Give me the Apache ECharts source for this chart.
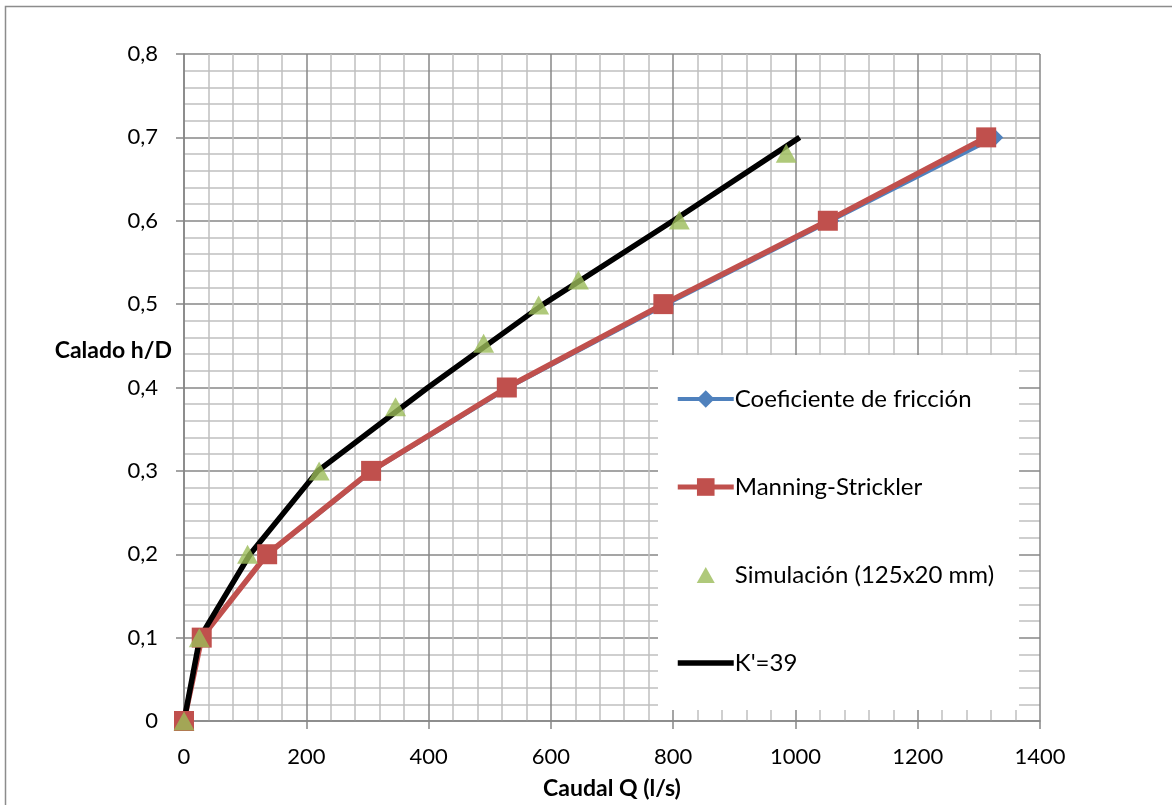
<!DOCTYPE html>
<html>
<head>
<meta charset="utf-8">
<script src="https://cdn.jsdelivr.net/npm/echarts@6/dist/echarts.min.js"></script>
<style>
  html, body { margin: 0; padding: 0; background: #fff; }
  #chart { width: 1172px; height: 805px; }
</style>
</head>
<body>
<div id="chart"></div>
<script>
// calado relativo h/D (eje Y)
var calado = [0, 0.1, 0.2, 0.3, 0.4, 0.5, 0.6, 0.7];
// caudal Q (l/s) por serie
var qFriccion = [0, 28, 137, 308, 531, 789, 1058, 1326];
var qManning = [0, 29, 136, 306, 528, 784, 1053, 1312];
var qK39 = [0, 26, 108, 219, 399, 588, 800, 1007];
// simulación (125x20 mm)
var simQ = [0, 25, 104, 221, 346, 490, 580, 645, 810, 985];
var simH = [0, 0.1, 0.2, 0.3, 0.377, 0.453, 0.499, 0.529, 0.601, 0.681];

var legendNames = ['Coeficiente de fricción', 'Manning-Strickler', 'Simulación (125x20 mm)', "K'=39"];

function pares(xs, ys) {
  var out = [];
  for (var i = 0; i < xs.length; i++) out.push([xs[i], ys[i]]);
  return out;
}

var chart = echarts.init(document.getElementById('chart'));
var fuente = 'Lato';

var option = {
  backgroundColor: '#ffffff',
  animation: false,
  textStyle: { fontFamily: fuente, color: '#000' },
  grid: { left: 184, right: 132, top: 54, bottom: 84 },
  graphic: [
    {
      type: 'rect',
      shape: { x: 5.5, y: 6.5, width: 1200, height: 900 },
      style: { fill: 'none', stroke: '#8c8c8c', lineWidth: 1.5 },
      silent: true
    },
    {
      type: 'text',
      right: 1172 - 172,
      top: 339,
      style: { text: 'Calado h/D', fontFamily: fuente, fontWeight: 'bold', fontSize: 23, fill: '#000', textAlign: 'right' }
    }
  ],
  legend: {
    orient: 'vertical',
    left: 658,
    top: 355,
    data: [
      { name: legendNames[0], lineStyle: { width: 4 } },
      { name: legendNames[1], lineStyle: { width: 5 } },
      { name: legendNames[2], icon: 'path://M9,0 L18,16 L0,16 Z M-19,-3 M37,19' },
      { name: legendNames[3], lineStyle: { width: 5.5 }, itemStyle: { opacity: 0 } }
    ],
    backgroundColor: '#ffffff',
    padding: [32, 25, 35, 17],
    itemWidth: 56,
    itemHeight: 22,
    itemGap: 64,
    symbolKeepAspect: true,
    textStyle: { fontFamily: fuente, fontSize: 24, color: '#000', padding: [0, 0, 0, -4] }
  },
  xAxis: {
    type: 'value',
    min: 0,
    max: 1400,
    interval: 200,
    name: 'Caudal Q (l/s)',
    nameLocation: 'middle',
    nameGap: 56,
    nameTextStyle: { fontFamily: fuente, fontWeight: 'bold', fontSize: 23, color: '#000' },
    axisLine: { show: true, lineStyle: { color: '#868686', width: 1.5 } },
    axisTick: { show: true, length: 8, lineStyle: { color: '#868686', width: 1.5 } },
    axisLabel: {
      fontFamily: fuente, fontSize: 22, color: '#000', margin: 25,
      formatter: function (v) { return String(v); }
    },
    minorTick: { show: false, splitNumber: 5 },
    splitLine: { show: true, lineStyle: { color: '#878787', width: 1.5 } },
    minorSplitLine: { show: true, lineStyle: { color: '#c0c0c0', width: 1.5 } }
  },
  yAxis: {
    type: 'value',
    min: 0,
    max: 0.8,
    interval: 0.1,
    axisLine: { show: true, lineStyle: { color: '#868686', width: 1.5 } },
    axisTick: { show: true, length: 8, lineStyle: { color: '#868686', width: 1.5 } },
    axisLabel: {
      fontFamily: fuente, fontSize: 22, color: '#000', margin: 26,
      formatter: function (v) { return String(Number(v.toFixed(1))).replace('.', ','); }
    },
    minorTick: { show: false, splitNumber: 5 },
    splitLine: { show: true, lineStyle: { color: '#878787', width: 1.5 } },
    minorSplitLine: { show: true, lineStyle: { color: '#c0c0c0', width: 1.5 } }
  },
  series: [
    {
      name: legendNames[0],
      type: 'line',
      data: pares(qFriccion, calado),
      color: '#4F81BD',
      lineStyle: { width: 4 },
      symbol: 'diamond',
      symbolSize: 17
    },
    {
      name: legendNames[1],
      type: 'line',
      data: pares(qManning, calado),
      color: '#C0504D',
      lineStyle: { width: 5.5 },
      symbol: 'rect',
      symbolSize: 20
    },
    {
      name: legendNames[2],
      type: 'scatter',
      z: 4,
      data: pares(simQ, simH),
      color: '#9BBB59',
      symbol: 'triangle',
      symbolSize: [21, 19]
    },
    {
      name: legendNames[3],
      type: 'line',
      z: 3,
      data: pares(qK39, calado),
      color: '#000000',
      lineStyle: { width: 5.5 },
      showSymbol: false,
      symbol: 'none'
    }
  ]
};

chart.setOption(option);
</script>
</body>
</html>
